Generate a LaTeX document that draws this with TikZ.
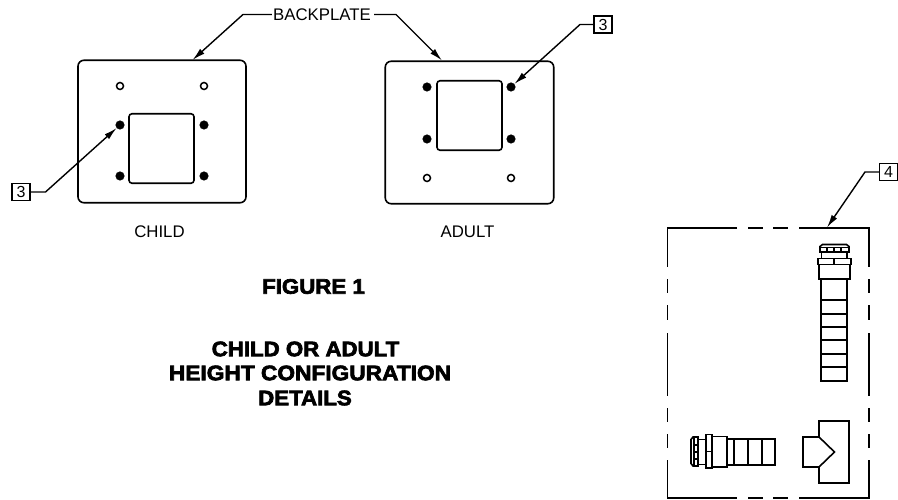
\documentclass[tikz,border=0pt]{standalone}
\usepackage{fontspec}
\setmainfont{Liberation Sans}
\newfontfamily\heavyfont[BoldFont={Liberation Sans Bold},BoldFeatures={FakeBold=3.2,FakeStretch=1.06}]{Liberation Sans}
\usetikzlibrary{arrows.meta}
\tikzset{
  partline/.style={line width=1.6pt,line join=miter},
  plate/.style={draw,line width=1.6pt,rounded corners=6pt,rectangle,inner sep=0pt},
  opening/.style={draw,line width=1.6pt,rounded corners=3pt,rectangle,inner sep=0pt},
  openhole/.style={draw,circle,line width=1.5pt,minimum size=7pt,inner sep=0pt},
  solidhole/.style={draw,fill=black,circle,line width=0.5pt,minimum size=8.5pt,inner sep=0pt},
  leader/.style={line width=1.4pt,-{Latex[length=13pt,width=6.5pt]},line join=miter},
  tagbox/.style={draw,line width=1.4pt,rectangle,minimum width=18pt,minimum height=17pt,inner sep=0pt,font=\fontsize{16}{16}\selectfont},
  viewlabel/.style={inner sep=0pt,font=\fontsize{16.8}{16.8}\selectfont},
  titletext/.style={inner sep=0pt,font=\heavyfont\bfseries\fontsize{21}{24}\selectfont},
}
\begin{document}
\begin{tikzpicture}[x=1pt,y=-1pt]
\useasboundingbox (0,0) rectangle (898,500);
% child plate
\node[plate,minimum width=168pt,minimum height=142.5pt] (childplate) at (162,131.5) {};
\node[opening,minimum width=65pt,minimum height=69.5pt] (childopen) at (161.5,148.5) {};
\node[openhole] (c1) at (120,86) {};
\node[openhole] (c2) at (204,86) {};
\node[solidhole] (c3) at (120,125) {};
\node[solidhole] (c4) at (204,125) {};
\node[solidhole] (c5) at (120,176) {};
\node[solidhole] (c6) at (204,176) {};
\node[viewlabel] (childlabel) at (159.5,232) {CHILD};
% adult plate
\node[plate,minimum width=168.5pt,minimum height=142.5pt] (adultplate) at (469.5,132.5) {};
\node[opening,minimum width=65pt,minimum height=69.5pt] (adultopen) at (469.5,115.5) {};
\node[solidhole] (a1) at (427,87) {};
\node[solidhole] (a2) at (511,87) {};
\node[solidhole] (a3) at (427,139) {};
\node[solidhole] (a4) at (511,139) {};
\node[openhole] (a5) at (427,178) {};
\node[openhole] (a6) at (511,178) {};
\node[viewlabel] (adultlabel) at (467.5,232) {ADULT};
% backplate leaders
\node[viewlabel] (backplate) at (322,14.5) {BACKPLATE};
\coordinate (bl1) at (243,14.5);
\coordinate (bl2) at (192.5,60);
\coordinate (br1) at (396,14.5);
\coordinate (br2) at (442,60.5);
\draw[leader] (backplate.west)++(-1,0) -- (bl1) -- (bl2);
\draw[leader] (backplate.east)++(3,0) -- (br1) -- (br2);
% tags
\node[tagbox] (tag3a) at (21,192) {3};
\coordinate (t3a) at (45.5,192);
\draw[leader] (tag3a.east) -- (t3a) -- (c3);
\node[tagbox] (tag3b) at (603,24.5) {3};
\coordinate (t3b) at (580,24.5);
\draw[leader] (tag3b.west) -- (t3b) -- (a2);
\node[tagbox] (tag4) at (888.5,172) {4};
\coordinate (t4) at (865,172);
\coordinate (t4end) at (827,227.5);
\draw[leader] (tag4.west) -- (t4) -- (t4end);
% kit outline
\draw[partline] (737,228) -- (667.5,228) -- (667.5,267);
\draw[partline] (667.5,279) -- (667.5,293) (667.5,305) -- (667.5,320) (667.5,333) -- (667.5,396) (667.5,408) -- (667.5,422) (667.5,434) -- (667.5,448);
\draw[partline] (667.5,460) -- (667.5,498) -- (737,498);
\draw[partline] (748,228) -- (763,228) (773,228) -- (788,228);
\draw[partline] (748,498) -- (763,498) (773,498) -- (788,498);
\draw[partline] (799,228) -- (868.7,228) -- (868.7,267);
\draw[partline] (868.7,279) -- (868.7,293) (868.7,305) -- (868.7,320) (868.7,333) -- (868.7,396) (868.7,408) -- (868.7,422) (868.7,434) -- (868.7,448);
\draw[partline] (868.7,460) -- (868.7,498) -- (799,498);
% vertical fitting
\draw[partline] (820,252) -- (820,246.5) -- (822.5,244.5) -- (846.5,244.5) -- (849,246.5) -- (849,252) -- cycle;
\draw[partline] (820,247.5) -- (849,247.5);
\foreach \xx in {820.5,827,834,841,848.5} \draw[partline] (\xx,247) -- (\xx,252);
\draw[partline] (821.5,252) -- (821.5,259) (847,252) -- (847,259);
\draw[partline] (818,258.5) rectangle (851,264.5);
\draw[partline] (834,258.5) -- (834,264.5);
\draw[partline] (818.7,264.5) rectangle (850,279);
\draw[partline] (821,279) rectangle (847,381);
\foreach \yy in {300,314,327,340,354,367} \draw[partline] (821,\yy) -- (847,\yy);
% horizontal fitting
\draw[partline] (698,437) -- (693,437) -- (691,439.5) -- (691,463.5) -- (693,466) -- (698,466) -- cycle;
\draw[partline] (694,437) -- (694,466);
\foreach \yy in {437.5,445,452,459,465.5} \draw[partline] (694,\yy) -- (698,\yy);
\draw[partline] (698,439.5) -- (706,439.5) (698,464.5) -- (706,464.5);
\draw[partline] (706,434.5) rectangle (712,468);
\draw[partline] (706,451.5) -- (712,451.5);
\draw[partline] (712,436.5) rectangle (727,467);
\draw[partline] (727,439) rectangle (775,465);
\foreach \xx in {734,748,762} \draw[partline] (\xx,439) -- (\xx,465);
% tee
\draw[partline] (819,437) -- (819,421) -- (849,421) -- (849,483) -- (819,483) -- (819,467) -- (803,467) -- (803,437) -- (819,437) -- (834.5,452) -- (819,467);
% title
\node[titletext] (figtitle) at (313.5,286.5) {FIGURE 1};
\node[titletext] (subone) at (305.5,349) {CHILD OR ADULT};
\node[titletext] (subtwo) at (310,373) {\scalebox{1.02}[1]{HEIGHT CONFIGURATION}};
\node[titletext] (subthree) at (305,398) {DETAILS};
\end{tikzpicture}
\end{document}
